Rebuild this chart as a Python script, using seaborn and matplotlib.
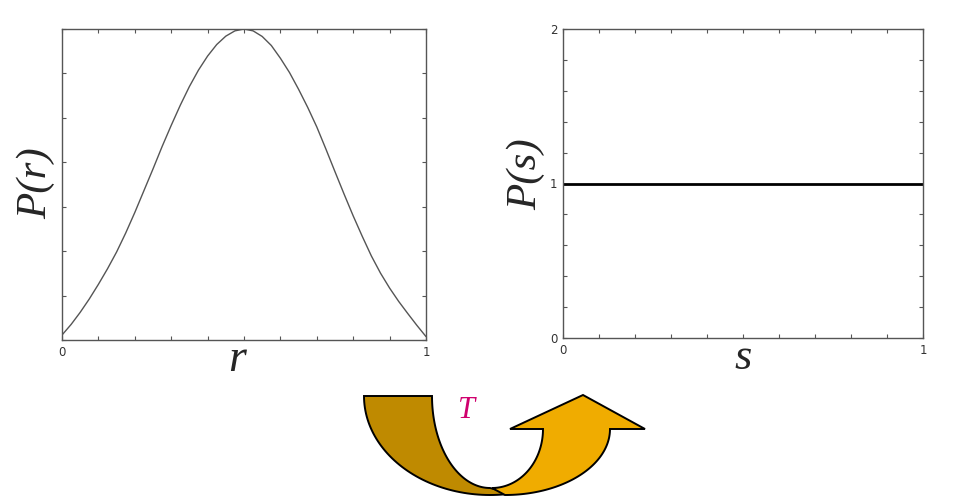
import numpy as np
import matplotlib
matplotlib.use("Agg")
import matplotlib.pyplot as plt
import seaborn as sns
from matplotlib.patches import Polygon

# values
r_vals = [0.0, 0.025, 0.05, 0.075, 0.1, 0.125, 0.15, 0.175, 0.2, 0.225, 0.25,
          0.275, 0.3, 0.325, 0.35, 0.375, 0.4, 0.425, 0.45, 0.475, 0.5,
          0.525, 0.55, 0.575, 0.6, 0.625, 0.65, 0.675, 0.7, 0.725, 0.75,
          0.775, 0.8, 0.825, 0.85, 0.875, 0.9, 0.925, 0.95, 0.975, 1.0]
p_r = [0.016, 0.05, 0.089, 0.132, 0.179, 0.229, 0.283, 0.344, 0.41, 0.48, 0.55,
       0.622, 0.69, 0.755, 0.815, 0.868, 0.913, 0.95, 0.977, 0.994, 1.0,
       0.994, 0.976, 0.947, 0.906, 0.86, 0.806, 0.748, 0.685, 0.614, 0.541,
       0.469, 0.399, 0.333, 0.27, 0.215, 0.167, 0.124, 0.085, 0.047, 0.011]
s_vals = [0.0, 1.0]
p_s = [1.0, 1.0]
x_ticks = np.linspace(0, 1, 11)
x_ticklabels = ["0", "", "", "", "", "", "", "", "", "", "1"]
s_yticks = np.linspace(0, 2, 11)
s_yticklabels = ["0", "", "", "", "", "1", "", "", "", "", "2"]
r_yticks = np.linspace(0, 1, 8)

sns.set_style("white")
plt.rcParams['font.family'] = ['DejaVu Sans']

W, H = 967, 496
fig = plt.figure(figsize=(W / 100, H / 100), dpi=100)

serif = dict(family="Liberation Serif", style="italic")


def frame(ax):
    for sp in ax.spines.values():
        sp.set_visible(True)
        sp.set_color("#555555")
        sp.set_linewidth(1.0)
    ax.tick_params(direction="in", length=3, width=0.8, color="#555555",
                   top=True, right=True, bottom=True, left=True,
                   labelsize=8.5, labelcolor="#333333", pad=4)


# left panel
ax1 = fig.add_axes([62 / W, 1 - 340 / H, 364 / W, 311 / H])
sns.lineplot(x=r_vals, y=p_r, ax=ax1, color="#555555", linewidth=1.0)
ax1.set_xlim(0, 1)
ax1.set_ylim(0, 1)
ax1.set_xticks(x_ticks)
ax1.set_xticklabels(x_ticklabels)
ax1.set_yticks(r_yticks)
ax1.set_yticklabels([])
frame(ax1)
ax1.set_xlabel("r", fontsize=33, **serif)
ax1.xaxis.set_label_coords(0.48, -0.065)
ax1.xaxis.label.set_va("center")
ax1.set_ylabel("P(r)", fontsize=31, **serif)
ax1.yaxis.set_label_coords(-0.072, 0.505)
ax1.yaxis.label.set_va("center")

# right panel
ax2 = fig.add_axes([563 / W, 1 - 338 / H, 360 / W, 309 / H])
sns.lineplot(x=s_vals, y=p_s, ax=ax2, color="black", linewidth=2.0)
ax2.set_xlim(0, 1)
ax2.set_ylim(0, 2)
ax2.set_xticks(x_ticks)
ax2.set_xticklabels(x_ticklabels)
ax2.set_yticks(s_yticks)
ax2.set_yticklabels(s_yticklabels)
frame(ax2)
ax2.set_xlabel("s", fontsize=32, **serif)
ax2.xaxis.set_label_coords(0.5, -0.065)
ax2.xaxis.label.set_va("center")
ax2.set_ylabel("P(s)", fontsize=31, **serif)
ax2.yaxis.set_label_coords(-0.103, 0.53)
ax2.yaxis.label.set_va("center")

# curved arrow underneath, drawn in pixel space
ov = fig.add_axes([0, 0, 1, 1], zorder=-1)
ov.set_xlim(0, W)
ov.set_ylim(H, 0)
ov.axis("off")


def arc(cx, cy, rx, ry, a0, a1, n=60):
    t = np.radians(np.linspace(a0, a1, n))
    return np.column_stack([cx + rx * np.cos(t), cy + ry * np.sin(t)])


# dark band
inner = arc(490, 396, 58, 92, 180, 90)
outer = arc(490, 396, 126, 99, 80, 180)
dark = np.vstack([[[364, 396], [432, 396]], inner, outer])
ov.add_patch(Polygon(dark, closed=True, facecolor="#BF8A00",
                     edgecolor="black", linewidth=1.4, joinstyle="miter"))

# light band with head
l_outer = arc(505, 429, 105, 66, 0, 90)
l_inner = arc(492, 429, 51, 59, 90, 0)
light = np.vstack([[[510, 429], [583, 395], [645, 429], [610, 429]],
                   l_outer, l_inner, [[543, 429]]])
ov.add_patch(Polygon(light, closed=True, facecolor="#F0AC00",
                     edgecolor="black", linewidth=1.4, joinstyle="miter"))

ov.text(467, 411, "T", fontsize=22, color="#D0006E", ha="center", va="center",
        **serif)

fig.savefig("out.png", dpi=100)
